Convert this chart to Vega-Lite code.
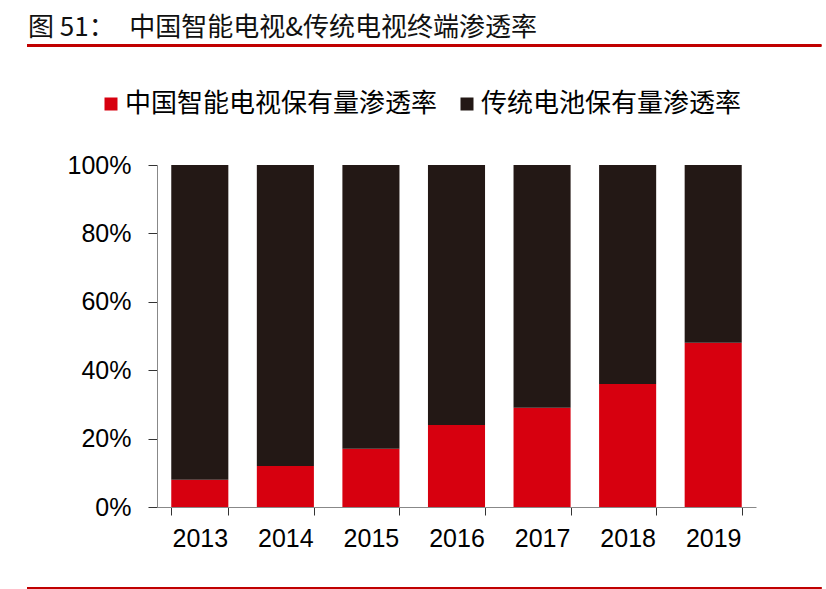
{
  "$schema": "https://vega.github.io/schema/vega-lite/v6.json",
  "description": "中国智能电视&传统电视终端渗透率, stacked bars 2013-2019",
  "autosize": {"type": "none"},
  "padding": {"left": 157, "top": 165, "right": 70, "bottom": 82},
  "width": 599,
  "height": 342,
  "background": "white",
  "title": {
    "text": "图 51：\u2002\u200a中国智能电视&传统电视终端渗透率",
    "anchor": "start",
    "frame": "group",
    "font": "Noto Sans CJK SC",
    "fontSize": 26,
    "fontWeight": "normal",
    "color": "#111111",
    "dx": -129,
    "offset": 3
  },
  "data": {
    "values": [
      {"year": "2013", "series": "中国智能电视保有量渗透率", "value": 0.08},
      {"year": "2014", "series": "中国智能电视保有量渗透率", "value": 0.12},
      {"year": "2015", "series": "中国智能电视保有量渗透率", "value": 0.17},
      {"year": "2016", "series": "中国智能电视保有量渗透率", "value": 0.24},
      {"year": "2017", "series": "中国智能电视保有量渗透率", "value": 0.29},
      {"year": "2018", "series": "中国智能电视保有量渗透率", "value": 0.36},
      {"year": "2019", "series": "中国智能电视保有量渗透率", "value": 0.48},
      {"year": "2013", "series": "传统电池保有量渗透率", "value": 0.92},
      {"year": "2014", "series": "传统电池保有量渗透率", "value": 0.88},
      {"year": "2015", "series": "传统电池保有量渗透率", "value": 0.83},
      {"year": "2016", "series": "传统电池保有量渗透率", "value": 0.76},
      {"year": "2017", "series": "传统电池保有量渗透率", "value": 0.71},
      {"year": "2018", "series": "传统电池保有量渗透率", "value": 0.64},
      {"year": "2019", "series": "传统电池保有量渗透率", "value": 0.52}
    ]
  },
  "layer": [
    {
      "mark": {"type": "bar"},
      "encoding": {
        "x": {
          "field": "year", "type": "nominal",
          "scale": {"paddingInner": 0.333, "paddingOuter": 0.1667},
          "axis": {
            "title": null, "labelAngle": 0, "tickBand": "extent",
            "tickSize": 8, "labelPadding": 11,
            "labelFont": "Liberation Sans", "labelFontSize": 25, "labelColor": "#000000",
            "domainColor": "#888888", "tickColor": "#333333"
          }
        },
        "y": {
          "field": "value", "type": "quantitative", "stack": "zero",
          "scale": {"domain": [0, 1], "nice": false},
          "axis": {
            "title": null, "values": [0, 0.2, 0.4, 0.6, 0.8, 1], "format": ".0%",
            "grid": false, "tickSize": 9, "labelPadding": 17,
            "labelFont": "Liberation Sans", "labelFontSize": 25, "labelColor": "#000000",
            "domainColor": "#888888", "tickColor": "#333333"
          }
        },
        "color": {
          "field": "series", "type": "nominal",
          "sort": ["中国智能电视保有量渗透率", "传统电池保有量渗透率"],
          "scale": {"range": ["#d7000f", "#231815"]},
          "legend": {
            "title": null, "orient": "none", "direction": "horizontal",
            "legendX": -59, "legendY": -74,
            "symbolType": "square", "symbolSize": 169, "symbolStrokeWidth": 0,
            "labelFont": "Noto Sans CJK SC", "labelFontSize": 26, "labelColor": "#000000",
            "labelOffset": 1, "columnPadding": 16, "labelLimit": 400
          }
        },
        "order": {"field": "series", "sort": "ascending"}
      }
    },
    {
      "mark": {"type": "rule", "color": "#c00000", "strokeWidth": 2, "clip": false},
      "encoding": {
        "x": {"datum": -0.2165, "type": "quantitative", "scale": {"domain": [0, 1], "nice": false, "zero": false}, "axis": null},
        "x2": {"datum": 1.1087},
        "y": {"datum": 1.3497, "type": "quantitative"}
      }
    },
    {
      "mark": {"type": "rule", "color": "#c00000", "strokeWidth": 2, "clip": false},
      "encoding": {
        "x": {"datum": -0.2165, "type": "quantitative", "scale": {"domain": [0, 1], "nice": false, "zero": false}, "axis": null},
        "x2": {"datum": 1.1087},
        "y": {"datum": -0.237, "type": "quantitative"}
      }
    }
  ],
  "resolve": {"scale": {"x": "independent"}},
  "config": {"view": {"stroke": null}}
}
